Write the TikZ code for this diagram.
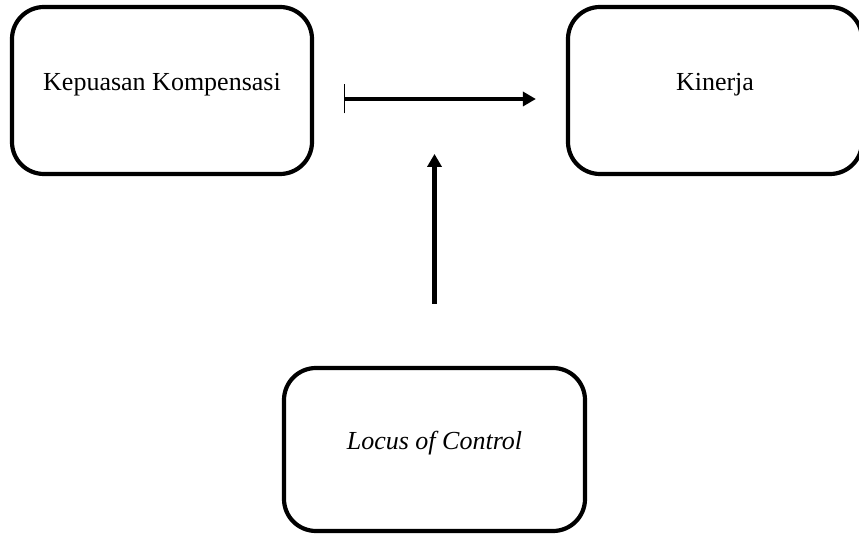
\documentclass[tikz,border=0pt]{standalone}
\usepackage{fontspec}
\setmainfont{Liberation Serif}
\usetikzlibrary{arrows.meta}

\begin{document}
\begin{tikzpicture}[x=1pt, y=1pt,
    varbox/.style={draw=black, line width=4.2pt, rounded corners=32pt,
        text height=0pt, text depth=0pt, font=\fontsize{26}{31}\selectfont},
    link/.style={line width=4.5pt}]
    % page frame
    \useasboundingbox (0,0) rectangle (859,535);

    % Draw the three variable boxes
    \node[varbox, minimum width=300pt, minimum height=167pt] (kom) at (162,444.5) {Kepuasan Kompensasi};
    \node[varbox, minimum width=294pt, minimum height=167pt] (kin) at (715,444.5) {Kinerja};
    \node[varbox, minimum width=301pt, minimum height=163pt] (loc) at (434.5,85.5) {\itshape Locus of Control};

    % Define end points of the arrows
    \coordinate (hA) at ([shift={(30,-8.5)}]kom.east);
    \coordinate (hB) at ([shift={(-30,-8.5)}]kin.west);
    \coordinate (vA) at ([yshift=62]loc.north);
    \coordinate (vB) at ([yshift=150]vA);

    % Draw the arrows
    \draw[link, {Bar[width=29pt, line width=1.2pt]}-{Triangle[length=13pt, width=14pt]}] (hA) -- (hB);
    \draw[link, -{Triangle[length=13pt, width=14pt]}] (vA) -- (vB);

\end{tikzpicture}
\end{document}
